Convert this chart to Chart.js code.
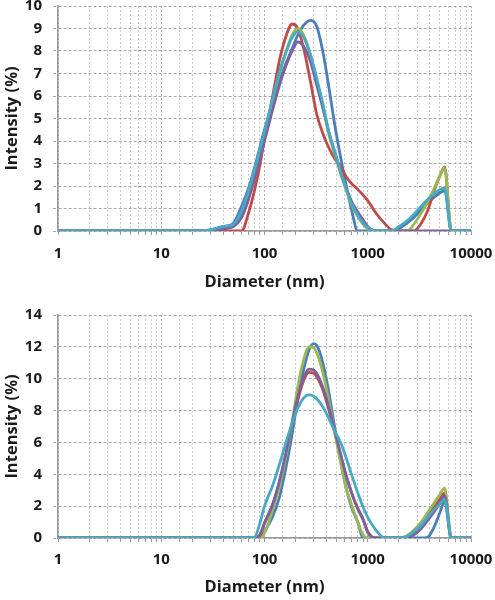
<!DOCTYPE html>
<html><head><meta charset="utf-8">
<script src="https://cdn.jsdelivr.net/npm/chart.js@4.4.1/dist/chart.umd.min.js"></script>
<style>
html,body{margin:0;padding:0;background:#fff;width:495px;height:600px;overflow:hidden}
.box{position:absolute;left:0;width:495px;height:300px}
</style></head><body>
<div class="box" style="top:0"><canvas id="c1"></canvas></div>
<div class="box" style="top:300px"><canvas id="c2"></canvas></div>
<script>
// ---------- data ----------
const seriesNames = ['Run 1', 'Run 2', 'Run 3', 'Run 4', 'Run 5'];
const seriesColors = ['#4a7ebb', '#be4b48', '#98b954', '#7d60a0', '#46aac5'];
const xTickLabels = [1, 10, 100, 1000, 10000];
const xTitle = 'Diameter (nm)';
const yTitle = 'Intensity (%)';

// top panel
const diametersTop = [1, 25, 30, 40, 50, 60, 70, 80, 90, 100, 120, 140, 160, 185, 210, 240, 280, 320, 370, 420, 480, 550, 620, 700, 800, 900, 1000, 1200, 1450, 1700, 2000, 2400, 2800, 3300, 3800, 4400, 5000, 5560, 6440, 10000];
const topBlue   = [0, 0, 0.05, 0.2, 0.35, 1.1, 1.9, 2.8, 3.7, 4.5, 5.7, 6.7, 7.4, 8.1, 8.7, 9.15, 9.36, 9.1, 7.9, 6.4, 4.7, 3.2, 2.0, 0.9, 0, 0, 0, 0, 0, 0, 0.1, 0.35, 0.6, 0.95, 1.25, 1.5, 1.7, 1.8, 0, 0];
const topRed    = [0, 0, 0, 0, 0, 0, 0.8, 1.8, 2.9, 4.1, 6.0, 7.6, 8.6, 9.2, 9.0, 8.1, 6.6, 5.2, 4.3, 3.7, 3.2, 2.85, 2.4, 2.1, 1.85, 1.6, 1.35, 0.8, 0.35, 0.05, 0, 0, 0, 0.35, 0.9, 1.8, 2.45, 2.85, 0, 0];
const topGreen  = [0, 0, 0.03, 0.15, 0.25, 0.8, 1.7, 2.6, 3.5, 4.3, 5.8, 7.0, 7.9, 8.7, 9.0, 8.7, 7.8, 6.7, 5.5, 4.3, 3.4, 2.5, 1.8, 1.15, 0.65, 0.3, 0.1, 0, 0, 0, 0, 0, 0.3, 0.8, 1.3, 1.9, 2.45, 2.8, 0, 0];
const topPurple = [0, 0, 0, 0.1, 0.2, 0.6, 1.4, 2.3, 3.2, 4.0, 5.4, 6.5, 7.3, 8.0, 8.4, 8.2, 7.5, 6.5, 5.4, 4.4, 3.5, 2.6, 1.9, 1.3, 0.85, 0.5, 0.2, 0, 0, 0, 0, 0, 0, 0, 0, 0, 0, 0, 0, 0];
const topCyan   = [0, 0, 0.05, 0.2, 0.3, 0.9, 1.8, 2.7, 3.6, 4.4, 5.9, 7.1, 7.9, 8.6, 8.85, 8.6, 7.8, 6.8, 5.6, 4.4, 3.5, 2.6, 1.85, 1.2, 0.7, 0.35, 0.15, 0, 0, 0, 0.2, 0.45, 0.75, 1.1, 1.4, 1.65, 1.85, 1.9, 0, 0];

// bottom panel
const diametersBottom = [1, 70, 80, 90, 100, 120, 140, 160, 185, 210, 240, 270, 300, 335, 370, 420, 480, 550, 620, 700, 800, 900, 1000, 1200, 1450, 1700, 2000, 2400, 2800, 3300, 3800, 4400, 5000, 5560, 6440, 10000];
const botBlue   = [0, 0, 0, 0, 0.4, 1.35, 2.6, 4.3, 6.5, 8.7, 10.6, 11.8, 12.2, 11.85, 10.9, 9.15, 6.9, 4.75, 3.1, 1.9, 1.0, 0, 0, 0, 0, 0, 0, 0, 0, 0, 0.05, 0.7, 1.6, 2.3, 0, 0];
const botRed    = [0, 0, 0, 0.2, 0.95, 2.1, 3.55, 5.15, 7.1, 8.65, 9.9, 10.4, 10.35, 9.9, 9.25, 8.05, 6.6, 5.1, 3.85, 2.8, 1.85, 1.2, 0.4, 0, 0, 0, 0, 0.1, 0.4, 0.85, 1.4, 1.95, 2.45, 2.82, 0, 0];
const botGreen  = [0, 0, 0, 0, 0.3, 1.8, 3.3, 5.0, 7.2, 9.5, 11.2, 12.0, 11.95, 11.3, 10.3, 8.6, 6.6, 4.6, 3.1, 2.05, 1.0, 0.2, 0, 0, 0, 0, 0, 0.15, 0.5, 1.0, 1.6, 2.2, 2.75, 3.13, 0, 0];
const botPurple = [0, 0, 0, 0.15, 0.9, 2.1, 3.6, 5.25, 7.25, 8.85, 10.1, 10.6, 10.55, 10.1, 9.4, 8.2, 6.7, 5.2, 3.9, 2.8, 1.85, 1.15, 0.35, 0, 0, 0, 0, 0, 0.2, 0.6, 1.1, 1.65, 2.2, 2.65, 0, 0];
const botCyan   = [0, 0, 0.05, 0.9, 2.0, 3.3, 4.65, 5.9, 7.2, 8.15, 8.8, 8.98, 8.9, 8.6, 8.2, 7.5, 6.7, 5.95, 5.0, 3.95, 2.85, 1.95, 1.3, 0.5, 0, 0, 0, 0.1, 0.4, 0.8, 1.3, 1.8, 2.15, 2.4, 0, 0];

// ---------- drawing ----------
const FONT = '"Open Sans", "Liberation Sans", sans-serif';
const TEXT = '#1a1a1a';

function makeChart(id, xs, ys, yMax, yStep, L) {
  const datasets = ys.map((vals, i) => ({
    label: seriesNames[i],
    data: xs.map((x, j) => ({ x: x, y: vals[j] })),
    borderColor: seriesColors[i],
    backgroundColor: seriesColors[i],
    borderWidth: 2.8,
    pointRadius: 0,
    cubicInterpolationMode: 'monotone',
    fill: false,
    order: ys.length - i
  }));
  return new Chart(document.getElementById(id), {
    type: 'line',
    data: { datasets },
    options: {
      responsive: true,
      maintainAspectRatio: false,
      animation: false,
      events: [],
      layout: { padding: { top: L.top, right: 24, left: 0, bottom: 0 } },
      plugins: { legend: { display: false }, tooltip: { enabled: false } },
      scales: {
        x: {
          type: 'logarithmic',
          min: 1, max: 10000,
          afterFit: s => { s.height = L.xh; s.paddingLeft = 0; s.paddingRight = 0; },
          ticks: {
            autoSkip: false, maxRotation: 0, minRotation: 0,
            padding: L.tickPad,
            color: TEXT,
            font: { family: FONT, size: 15, weight: 'bold', lineHeight: 1 },
            callback: v => xTickLabels.includes(v) ? String(v) : ''
          },
          grid: {
            color: ctx => (ctx.tick && xTickLabels.includes(ctx.tick.value)) ? '#b4b4b4' : '#cdcdcd',
            lineWidth: 1,
            tickLength: 4,
            tickColor: '#9a9a9a',
            tickBorderDash: []
          },
          border: { display: true, color: '#9a9a9a', width: 1.6, dash: [2, 2] },
          title: {
            display: true, text: xTitle, color: TEXT,
            font: { family: FONT, size: 16.5, weight: 'bold', lineHeight: 1.2 },
            padding: { top: 0, bottom: L.titlePad }
          }
        },
        y: {
          type: 'linear',
          min: 0, max: yMax,
          afterFit: s => { s.width = 58; s.paddingTop = 0; s.paddingBottom = 0; },
          ticks: {
            stepSize: yStep,
            padding: 11,
            color: TEXT,
            font: { family: FONT, size: 15, weight: 'bold', lineHeight: 1 }
          },
          grid: {
            color: '#a9a9a9',
            lineWidth: 1,
            tickLength: 5,
            tickColor: '#a9a9a9',
            tickBorderDash: [3, 2]
          },
          border: { display: true, color: '#9a9a9a', width: 1.6, dash: [3, 2] },
          title: {
            display: true, text: yTitle, color: TEXT,
            font: { family: FONT, size: 16.5, weight: 'bold', lineHeight: 1.2 },
            padding: { top: 2, bottom: 0 }
          }
        }
      }
    }
  });
}

makeChart('c1', diametersTop, [topBlue, topRed, topGreen, topPurple, topCyan], 10, 1,
  { top: 6, xh: 69, tickPad: 11, titlePad: 8 });
makeChart('c2', diametersBottom, [botBlue, botRed, botGreen, botPurple, botCyan], 14, 2,
  { top: 15, xh: 62, tickPad: 10, titlePad: 3 });
</script>
</body></html>
